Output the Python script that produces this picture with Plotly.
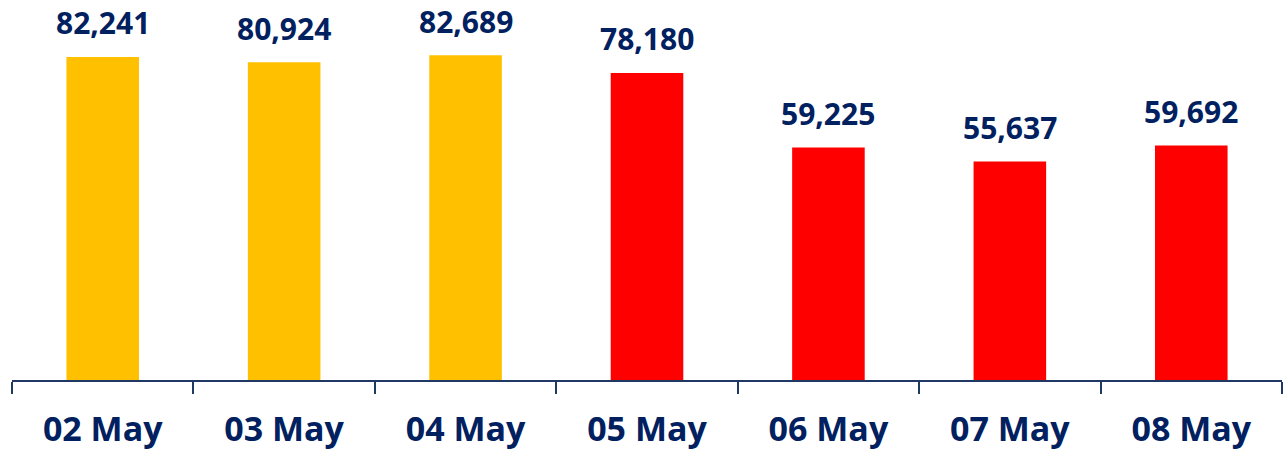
import plotly.graph_objects as go

categories = ["02 May", "03 May", "04 May", "05 May", "06 May", "07 May", "08 May"]
values = [82241, 80924, 82689, 78180, 59225, 55637, 59692]
colors = ["#FFC000", "#FFC000", "#FFC000", "#FF0000", "#FF0000", "#FF0000", "#FF0000"]
labels = [f"{v:,}" for v in values]

navy = "#002060"
fig = go.Figure(go.Bar(x=categories, y=values, marker=dict(color=colors, line=dict(width=0)),
                       width=0.4, hoverinfo="skip"))

for c, v, t in zip(categories, values, labels):
    fig.add_annotation(x=c, y=v, text=t, showarrow=False, yanchor="middle", yshift=34,
                       font=dict(family="Open Sans", size=30, color=navy, weight="bold"))

fig.update_layout(
    width=1288, height=454,
    margin=dict(l=12, r=6, t=0, b=74),
    plot_bgcolor="white", paper_bgcolor="white",
    showlegend=False,
    xaxis=dict(type="category", showline=True, linecolor="#1F3864", linewidth=2,
               ticks="outside", tickson="boundaries", ticklen=12, tickwidth=2, tickcolor="#1F3864",
               tickfont=dict(family="Open Sans", size=34, color=navy, weight="bold"),
               ticklabelstandoff=18, showgrid=False, range=[-0.5, 6.5], automargin=False),
    yaxis=dict(visible=False, range=[0, 96750], showgrid=False, automargin=False),
)
fig.write_html("out.html", config={"displayModeBar": False},
               post_script="document.body.style.margin='0';document.body.style.overflow='hidden';")
